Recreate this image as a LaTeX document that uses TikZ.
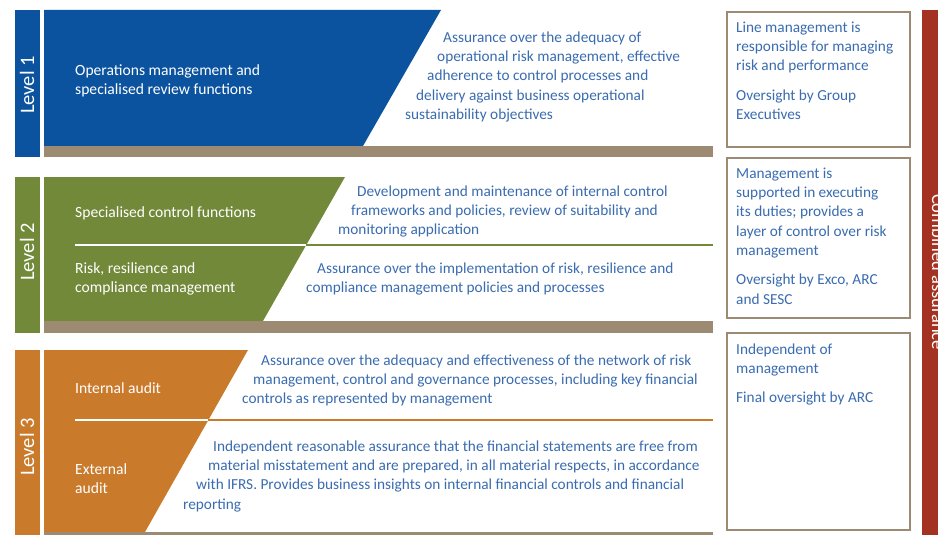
\documentclass[tikz,border=0pt]{standalone}
\usepackage{fontspec}
\setmainfont{Carlito}
\usepackage{xcolor}

\definecolor{lvlblue}{HTML}{0B539E}
\definecolor{lvlgreen}{HTML}{72893A}
\definecolor{lvlorange}{HTML}{C97A2B}
\definecolor{tanbar}{HTML}{9C8B72}
\definecolor{redbar}{HTML}{A33222}
\definecolor{txtblue}{HTML}{3A6CB0}

\begin{document}
\begin{tikzpicture}[x=1pt, y=-1pt,
    lvl/.style={rotate=90, text=white, font=\fontsize{20.5}{22}\selectfont},
    fn/.style={anchor=north west, inner sep=0pt, align=left, text=white, font=\fontsize{15.6}{19.3}\selectfont},
    desc/.style={anchor=north west, inner sep=0pt, align=left, text=txtblue, font=\fontsize{15.3}{19.3}\selectfont},
    oversight/.style={draw=tanbar, line width=2.5pt, fill=white},
    sep/.style={line width=2pt}]

    \clip (0,0) rectangle (938,535);
    \fill[white] (0,0) rectangle (938,535);

    % Level 1
    \fill[lvlblue] (15,10) rectangle (40,157);
    \fill[lvlblue] (44,10) -- (441,10) -- (363,146) -- (44,146) -- cycle;
    \fill[tanbar] (44,146) rectangle (713,157);
    \node[lvl] (level1) at (27,85) {Level 1};
    \node[fn] (ops) at (75,64.5) {Operations management and\\specialised review functions};
    \node[desc] (opsdesc) at (405,31.5) {\hspace*{38pt}Assurance over the adequacy of\\
        \hspace*{32pt}operational risk management, effective\\
        \hspace*{22pt}adherence to control processes and\\
        \hspace*{11pt}delivery against business operational\\
        sustainability objectives};

    % Level 2
    \fill[lvlgreen] (15,177) rectangle (40,333);
    \fill[lvlgreen] (44,177) -- (345,177) -- (263,321) -- (44,321) -- cycle;
    \fill[tanbar] (44,321) rectangle (713,333);
    \draw[sep, white] (75,245) -- (306,245);
    \draw[sep, lvlgreen] (306,245) -- (713,245);
    \node[lvl] (level2) at (27,252) {Level 2};
    \node[fn] (ctrl) at (75,206.5) {Specialised control functions};
    \node[fn] (risk) at (75,262.5) {Risk, resilience and\\compliance management};
    \node[desc] (ctrldesc) at (338,185.5) {\hspace*{19pt}Development and maintenance of internal control\\
        \hspace*{13pt}frameworks and policies, review of suitability and\\
        monitoring application};
    \node[desc] (riskdesc) at (306,262.5) {\hspace*{11pt}Assurance over the implementation of risk, resilience and\\
        compliance management policies and processes};

    % Level 3
    \fill[lvlorange] (15,350) rectangle (40,540);
    \fill[lvlorange] (44,350) -- (248,350) -- (145,532) -- (44,532) -- cycle;
    \fill[tanbar] (44,532) rectangle (713,540);
    \draw[sep, white] (75,420) -- (208,420);
    \draw[sep, lvlorange] (208,420) -- (713,420);
    \node[lvl] (level3) at (27,447) {Level 3};
    \node[fn] (ia) at (75,382.5) {Internal audit};
    \node[fn] (ea) at (75,463.5) {External\\audit};
    \node[desc] (iadesc) at (242,354.5) {\hspace*{19pt}Assurance over the adequacy and effectiveness of the network of risk\\
        \hspace*{11pt}management, control and governance processes, including key financial\\
        controls as represented by management};
    \node[desc] (eadesc) at (183,440.5) {\hspace*{30pt}Independent reasonable assurance that the financial statements are free from\\
        \hspace*{25pt}material misstatement and are prepared, in all material respects, in accordance\\
        \hspace*{13pt}with IFRS. Provides business insights on internal financial controls and financial\\
        reporting};

    % oversight boxes
    \draw[oversight] (727,12) rectangle (910,147);
    \draw[oversight] (727,158) rectangle (910,318);
    \draw[oversight] (727,333) rectangle (910,530);
    \node[desc] (ov1) at (736,21.5) {Line management is\\responsible for managing\\risk and performance\\[10pt]Oversight by Group\\Executives};
    \node[desc] (ov2) at (736,167.5) {Management is\\supported in executing\\its duties; provides a\\layer of control over risk\\management\\[10pt]Oversight by Exco, ARC\\and SESC};
    \node[desc] (ov3) at (736,343.5) {Independent of\\management\\[10pt]Final oversight by ARC};

    % combined assurance bar
    \fill[redbar] (922,10) rectangle (938,535);
    \node[rotate=-90, anchor=base, text=white, font=\fontsize{18.5}{20}\selectfont] (combined) at (932,272) {Combined assurance};
\end{tikzpicture}
\end{document}
